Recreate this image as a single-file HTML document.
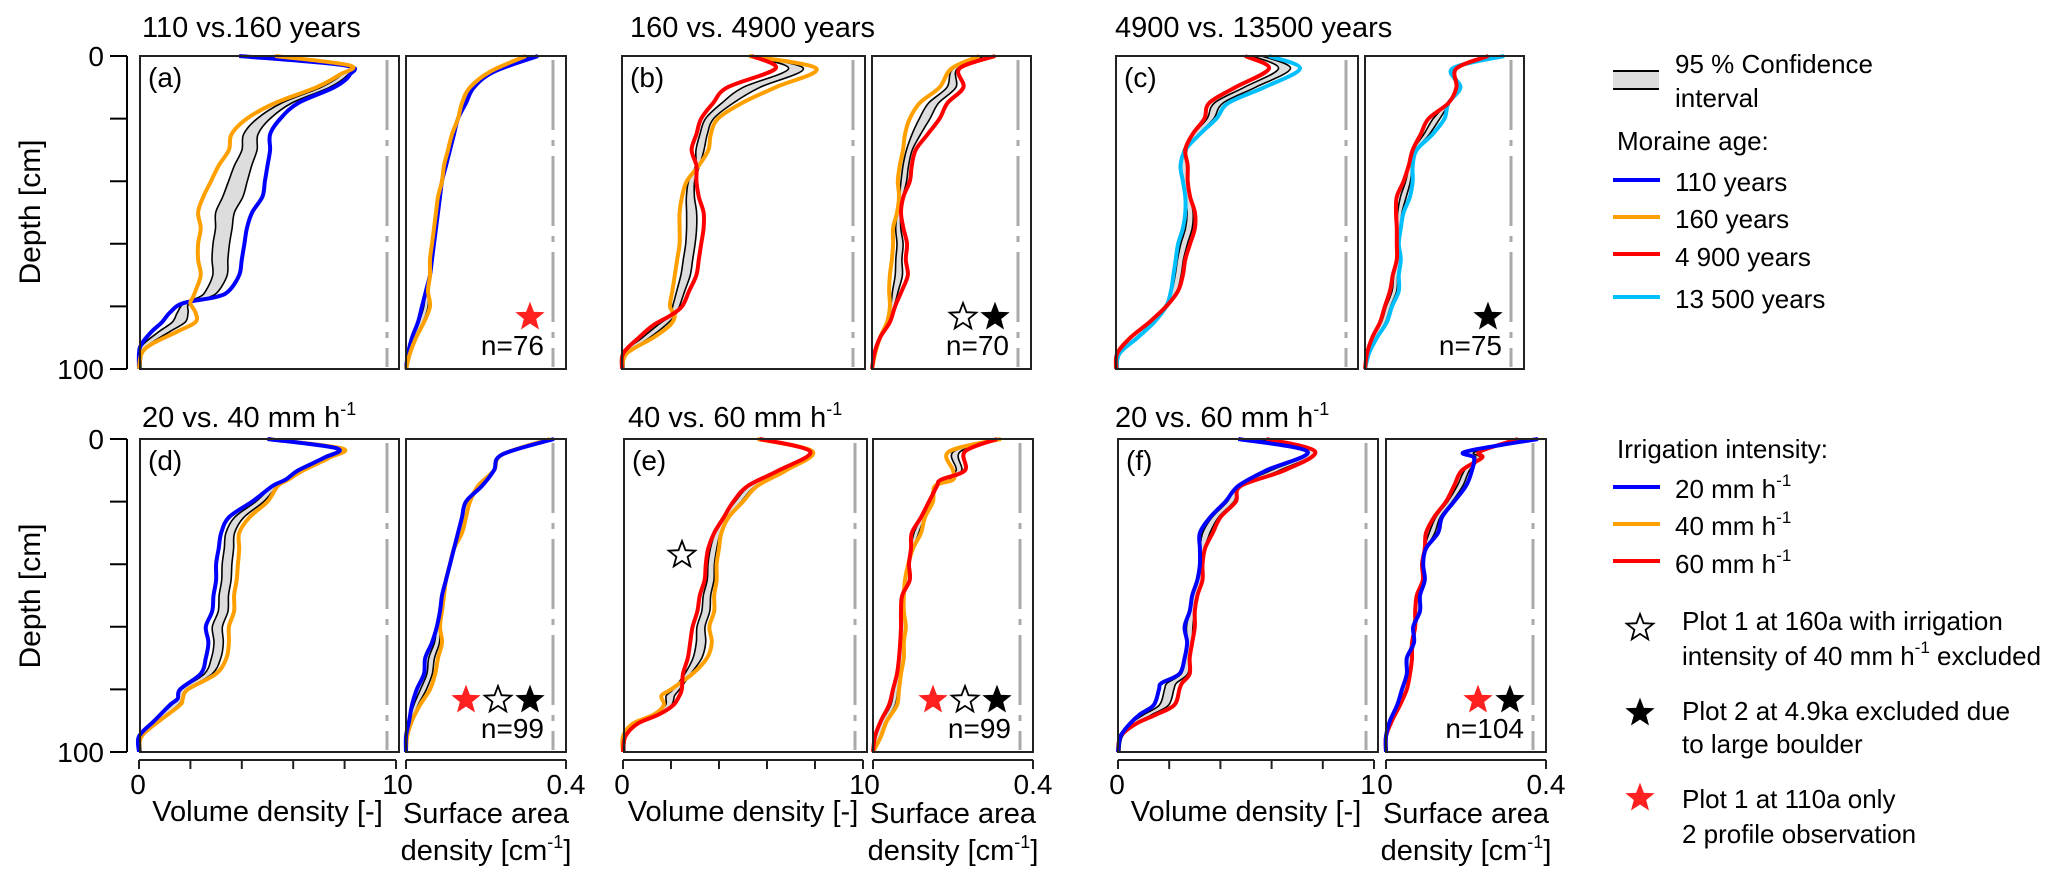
<!DOCTYPE html>
<html><head><meta charset="utf-8">
<style>
html,body{margin:0;padding:0;background:#fff;}
svg{display:block;font-family:"Liberation Sans",sans-serif;}
</style></head>
<body>
<svg id="fig" width="2067" height="887" viewBox="0 0 2067 887" xmlns="http://www.w3.org/2000/svg">
<g id="plots"></g>
<!-- titles -->
<g font-size="29" fill="#000">
<text x="142" y="37">110 vs.160 years</text>
<text x="630" y="37">160 vs. 4900 years</text>
<text x="1115" y="37">4900 vs. 13500 years</text>
<text x="142" y="427">20 vs. 40 mm h<tspan dy="-12" font-size="18">-1</tspan></text>
<text x="628" y="427">40 vs. 60 mm h<tspan dy="-12" font-size="18">-1</tspan></text>
<text x="1115" y="427">20 vs. 60 mm h<tspan dy="-12" font-size="18">-1</tspan></text>
</g>
<!-- y axes -->
<g stroke="#000" stroke-width="2">
<line x1="127" y1="56" x2="127" y2="369"/><line x1="127" y1="439" x2="127" y2="752"/>
</g>
<g id="yticks"></g>
<g font-size="28" text-anchor="end">
<text x="104" y="66">0</text>
<text x="104" y="379">100</text>
<text x="104" y="449">0</text>
<text x="104" y="762">100</text>
</g>
<text transform="translate(40,212) rotate(-90)" font-size="30" text-anchor="middle">Depth [cm]</text>
<text transform="translate(40,596) rotate(-90)" font-size="30" text-anchor="middle">Depth [cm]</text>
<!-- top legend -->
<g font-size="26">
<rect x="1613" y="71" width="46" height="18" fill="#ddd"/>
<line x1="1613" y1="71" x2="1659" y2="71" stroke="#000" stroke-width="2"/>
<line x1="1613" y1="89" x2="1659" y2="89" stroke="#000" stroke-width="2"/>
<text x="1675" y="73">95 % Confidence</text>
<text x="1675" y="107">interval</text>
<text x="1617" y="150">Moraine age:</text>
<line x1="1613" y1="180" x2="1660" y2="180" stroke="#0000ff" stroke-width="4"/>
<text x="1675" y="191">110 years</text>
<line x1="1613" y1="217" x2="1660" y2="217" stroke="#ffa000" stroke-width="4"/>
<text x="1675" y="228">160 years</text>
<line x1="1613" y1="254" x2="1660" y2="254" stroke="#ff0000" stroke-width="4"/>
<text x="1675" y="266">4 900 years</text>
<line x1="1613" y1="297" x2="1660" y2="297" stroke="#00bfff" stroke-width="4"/>
<text x="1675" y="308">13 500 years</text>
</g>
<!-- bottom legend -->
<g font-size="26">
<text x="1617" y="458">Irrigation intensity:</text>
<line x1="1613" y1="487" x2="1660" y2="487" stroke="#0000ff" stroke-width="4"/>
<text x="1675" y="498">20 mm h<tspan dy="-12" font-size="17">-1</tspan></text>
<line x1="1613" y1="524" x2="1660" y2="524" stroke="#ffa000" stroke-width="4"/>
<text x="1675" y="535">40 mm h<tspan dy="-12" font-size="17">-1</tspan></text>
<line x1="1613" y1="561" x2="1660" y2="561" stroke="#ff0000" stroke-width="4"/>
<text x="1675" y="573">60 mm h<tspan dy="-12" font-size="17">-1</tspan></text>
<text x="1682" y="630">Plot 1 at 160a with irrigation</text>
<text x="1682" y="665">intensity of 40 mm h<tspan dy="-12" font-size="17">-1</tspan><tspan dy="12"> excluded</tspan></text>
<text x="1682" y="720">Plot 2 at 4.9ka excluded due</text>
<text x="1682" y="753">to large boulder</text>
<text x="1682" y="808">Plot 1 at 110a only</text>
<text x="1682" y="843">2 profile observation</text>
</g>
<g id="stars"></g>
<g id="xaxes"></g>
</svg>
<script>
// ---- data (volume density [-], surface area density [cm^-1]) ----
const depthVolA = [0,3,6,10,15,20,25,30,35,40,45,50,55,60,65,70,75,77,79,82,85,88,92,95,100];
const volA_110 = [.39,.80,.82,.76,.62,.55,.51,.51,.50,.49,.48,.44,.42,.41,.40,.39,.35,.30,.17,.12,.09,.05,.01,0,0];
const volA_160 = [.53,.82,.78,.69,.53,.42,.36,.35,.31,.28,.25,.23,.24,.23,.23,.24,.22,.21,.20,.22,.22,.15,.05,.01,0];
const depthSurf = [0,5,10,15,20,25,30,35,40,45,50,55,60,65,70,75,80,85,90,95,100];
const surfA_110 = [.33,.22,.17,.15,.13,.12,.11,.10,.09,.085,.08,.075,.07,.065,.06,.05,.04,.03,.015,.005,0];
const surfA_160 = [.30,.21,.16,.14,.13,.115,.105,.095,.09,.08,.075,.07,.065,.06,.06,.055,.06,.045,.025,.01,0];

const depthVolB = [0,4,10,15,20,25,30,35,40,45,50,55,60,65,70,75,80,83,86,90,95,100];
const volB_160 = [.53,.81,.64,.50,.40,.37,.36,.32,.27,.25,.24,.24,.24,.23,.22,.21,.20,.22,.20,.13,.02,0];
const volB_4900 = [.54,.64,.44,.38,.33,.31,.29,.31,.31,.32,.34,.34,.33,.32,.31,.28,.25,.20,.13,.07,.005,0];
const depthSurf4 = [0,4,10,15,20,25,30,35,40,45,50,55,60,65,70,75,80,85,90,95,100];
const surfB_160 = [.27,.20,.17,.12,.095,.083,.078,.07,.065,.068,.063,.053,.053,.05,.045,.043,.045,.038,.02,.008,0];
const surfB_4900 = [.31,.22,.23,.19,.17,.14,.11,.10,.095,.079,.073,.079,.088,.085,.09,.075,.058,.045,.02,.006,0];

const depthVolC = [0,4,10,15,20,25,30,35,40,45,50,55,60,65,70,75,80,85,90,95,100];
const volC_4900 = [.54,.64,.50,.39,.37,.32,.29,.30,.30,.31,.33,.33,.31,.29,.28,.26,.21,.14,.06,.005,0];
const volC_13500 = [.64,.77,.62,.47,.42,.35,.29,.27,.28,.29,.29,.28,.26,.25,.24,.23,.21,.16,.09,.015,0];
const surfC_4900 = [.31,.23,.23,.21,.16,.14,.12,.11,.097,.08,.078,.08,.08,.08,.07,.063,.05,.038,.018,.005,0];
const surfC_13500 = [.35,.22,.24,.21,.20,.17,.13,.12,.12,.113,.097,.09,.085,.09,.085,.085,.068,.055,.03,.01,0];

const depthVolD = [0,3,6,10,13,15,20,25,30,35,40,45,50,55,60,65,70,75,80,83,85,90,95,100];
const volD_20 = [.50,.77,.72,.62,.57,.52,.44,.35,.32,.31,.30,.30,.29,.285,.26,.27,.26,.24,.16,.15,.12,.06,0,0];
const volD_40 = [.50,.79,.74,.64,.58,.54,.50,.43,.39,.39,.385,.38,.37,.37,.35,.35,.34,.30,.19,.17,.16,.08,.01,0];
const surfD_20 = [.37,.24,.22,.19,.15,.14,.13,.12,.11,.10,.09,.085,.077,.065,.048,.045,.027,.015,.008,0,0];
const surfD_40 = [.36,.24,.22,.18,.16,.15,.14,.12,.11,.10,.095,.09,.085,.09,.08,.073,.06,.035,.015,.003,0];

const depthVolE = [0,4,10,15,20,25,30,35,40,45,50,55,60,65,70,75,80,82,85,88,91,95,100];
const volE_40 = [.56,.79,.68,.56,.50,.44,.41,.40,.39,.39,.38,.38,.36,.37,.35,.29,.20,.16,.17,.13,.04,0,0];
const volE_60 = [.57,.78,.65,.52,.46,.42,.38,.355,.345,.34,.32,.31,.29,.28,.27,.25,.245,.235,.21,.15,.06,.01,0];
const depthSurfE = [0,4,10,13,15,20,25,30,35,40,45,50,55,60,65,70,75,80,85,90,95,100];
const surfE_40 = [.32,.19,.20,.20,.155,.15,.13,.12,.10,.088,.08,.077,.077,.082,.077,.077,.07,.065,.06,.035,.02,0];
const surfE_60 = [.31,.23,.23,.17,.16,.14,.12,.097,.095,.09,.092,.073,.07,.07,.068,.065,.06,.05,.04,.02,.005,0];

const depthVolF = [0,4,10,15,20,25,30,35,40,45,50,55,60,65,70,75,78,80,85,88,91,95,100];
const volF_20 = [.47,.74,.58,.47,.42,.36,.32,.32,.32,.31,.29,.28,.26,.27,.26,.24,.17,.16,.14,.085,.046,.01,0];
const volF_60 = [.58,.77,.65,.48,.46,.40,.37,.34,.33,.33,.31,.30,.30,.29,.28,.28,.25,.24,.22,.15,.07,.01,0];
const depthSurfF = [0,4,6,10,15,20,25,30,35,40,45,50,55,60,65,70,75,80,85,90,95,100];
const surfF_20 = [.38,.20,.22,.215,.20,.17,.14,.13,.10,.093,.097,.085,.085,.068,.07,.052,.052,.04,.028,.01,0,0];
const surfF_60 = [.33,.235,.24,.19,.17,.15,.12,.10,.097,.09,.092,.077,.073,.073,.065,.065,.06,.052,.035,.015,0,0];

const sampleSizes = ["n=76","n=70","n=75","n=99","n=99","n=104"];
const panelLabels = ["(a)","(b)","(c)","(d)","(e)","(f)"];
const volTicks = [0,0.2,0.4,0.6,0.8,1];

const C = {blue:"#0000ff", orange:"#ffa000", red:"#ff0000", cyan:"#00bfff"};
const NS = "http://www.w3.org/2000/svg";
function mk(tag, attrs, parent){
  const e = document.createElementNS(NS, tag);
  for (const k in attrs) e.setAttribute(k, attrs[k]);
  if (parent) parent.appendChild(e);
  return e;
}
function smoothPath(pts){
  let d = "M"+pts[0][0].toFixed(1)+","+pts[0][1].toFixed(1);
  for (let i=0;i<pts.length-1;i++){
    const p0=pts[i-1]||pts[i], p1=pts[i], p2=pts[i+1], p3=pts[i+2]||p2;
    const c1=[p1[0]+(p2[0]-p0[0])/6, p1[1]+(p2[1]-p0[1])/6];
    const c2=[p2[0]-(p3[0]-p1[0])/6, p2[1]-(p3[1]-p1[1])/6];
    d += " C"+c1[0].toFixed(1)+","+c1[1].toFixed(1)+" "+c2[0].toFixed(1)+","+c2[1].toFixed(1)+" "+p2[0].toFixed(1)+","+p2[1].toFixed(1);
  }
  return d;
}

const panels = [
 {id:"a", top:56, bot:369, v:[140,399,139,396], s:[406,566,406,566], depV:depthVolA, A:volA_110, B:volA_160, cA:C.blue, cB:C.orange, depS:depthSurf, sA:surfA_110, sB:surfA_160, stars:["red"]},
 {id:"b", top:56, bot:369, v:[622,865,622,862], s:[872,1031,872,1031], depV:depthVolB, A:volB_160, B:volB_4900, cA:C.orange, cB:C.red, depS:depthSurf4, sA:surfB_160, sB:surfB_4900, stars:["open","black"]},
 {id:"c", top:56, bot:369, v:[1116,1358,1116,1355], s:[1365,1524,1365,1524], depV:depthVolC, A:volC_13500, B:volC_4900, cA:C.cyan, cB:C.red, depS:depthVolC, sA:surfC_13500, sB:surfC_4900, stars:["black"]},
 {id:"d", top:439, bot:752, v:[140,399,139,396], s:[406,566,406,566], depV:depthVolD, A:volD_40, B:volD_20, cA:C.orange, cB:C.blue, depS:depthSurf, sA:surfD_40, sB:surfD_20, stars:["red","open","black"]},
 {id:"e", top:439, bot:752, v:[624,867,623,863], s:[873,1033,873,1033], depV:depthVolE, A:volE_40, B:volE_60, cA:C.orange, cB:C.red, depS:depthSurfE, sA:surfE_40, sB:surfE_60, stars:["red","open","black"]},
 {id:"f", top:439, bot:752, v:[1118,1378,1118,1374], s:[1386,1546,1386,1546], depV:depthVolF, A:volF_60, B:volF_20, cA:C.red, cB:C.blue, depS:depthSurfF, sA:surfF_60, sB:surfF_20, stars:["red","black"]}
];

function starPts(cx,cy,r){
  const p=[];
  for(let i=0;i<10;i++){const a=-Math.PI/2+i*Math.PI/5; const rr=i%2?r*0.42:r; p.push((cx+rr*Math.cos(a)).toFixed(1)+","+(cy+rr*Math.sin(a)).toFixed(1));}
  return p.join(" ");
}
function drawStar(kind,cx,cy,parent){
  const fill = kind==="red"?"#ff2020":(kind==="black"?"#000":"#fff");
  const st = mk("polygon",{points:starPts(cx,cy,14),fill:fill,stroke:kind==="red"?"#ff2020":"#000","stroke-width":kind==="open"?1.8:1},parent);
  
  
}

const root = document.getElementById("plots");
panels.forEach((P,pi)=>{
  const g = mk("g",{},root);
  
  
  const yS = d => P.top + (P.bot-P.top)*d/100;
  const subs = [
    {kind:"volume", box:P.v, max:1, dep:P.depV, A:P.A, B:P.B, dashOff:12},
    {kind:"surface", box:P.s, max:0.4, dep:P.depS, A:P.sA, B:P.sB, dashOff:13}
  ];
  subs.forEach(S=>{
    const [bx0,bx1,ax0,ax1] = S.box;
    const xS = v => ax0 + (ax1-ax0)*v/S.max;
    const sg = mk("g",{},g);
    
    
    const gl = mk("line",{x1:bx1-S.dashOff,y1:P.top+4,x2:bx1-S.dashOff,y2:P.bot-2,stroke:"#aaa","stroke-width":3,"stroke-dasharray":"70,10,6,10"},sg);
    
    
    const lo=[], hi=[];
    S.dep.forEach((d,i)=>{
      const a=S.A[i], b=S.B[i], m=(a+b)/2, w=Math.abs(a-b)*0.14 + S.max*0.007;
      lo.push([xS(Math.max(0,m-w)), yS(d)]);
      hi.push([xS(m+w), yS(d)]);
    });
    const band = mk("path",{d:smoothPath(lo)+" L"+hi[hi.length-1][0].toFixed(1)+","+hi[hi.length-1][1].toFixed(1)+" "+smoothPath(hi.slice().reverse()).slice(1)+" Z",fill:"#ddd",stroke:"none"},sg);
    
    
    [lo,hi].forEach(L=>{
      const cl = mk("path",{d:smoothPath(L),fill:"none",stroke:"#000","stroke-width":1.6},sg);
      
      
    });
    [[S.A,P.cA],[S.B,P.cB]].forEach(([arr,col])=>{
      const pts = S.dep.map((d,i)=>[xS(arr[i]), yS(d)]);
      const ln = mk("path",{d:smoothPath(pts),fill:"none",stroke:col,"stroke-width":4,"stroke-linejoin":"round"},sg);
      
      
    });
    const fr = mk("rect",{x:bx0,y:P.top,width:bx1-bx0,height:P.bot-P.top,fill:"none",stroke:"#222","stroke-width":2},sg);
    
    
    if (P.top > 400){
      const ax = document.getElementById("xaxes");
      const al = mk("line",{x1:ax0,y1:760,x2:ax1,y2:760,stroke:"#222","stroke-width":2},ax);
      
      
      const ticks = S.kind==="volume"?volTicks:[0,0.4];
      ticks.forEach(t=>{
        const tk = mk("line",{x1:xS(t),y1:760,x2:xS(t),y2:769,stroke:"#222","stroke-width":2},ax);
        
        
      });
      const l0 = mk("text",{x:ax0-1,y:794,"font-size":28,"text-anchor":"middle"},ax); l0.textContent="0";
      
      
      const l1 = mk("text",{x:ax1+(S.kind==="volume"?-6:0),y:794,"font-size":28,"text-anchor":"middle"},ax);
      l1.textContent = S.kind==="volume"?"1":"0.4";
      
      
      if (S.kind==="volume"){
        const t = mk("text",{x:(ax0+ax1)/2,y:821,"font-size":29,"text-anchor":"middle"},ax);
        t.textContent="Volume density [-]";
        
        
      } else {
        const t = mk("text",{x:(bx0+bx1)/2,y:823,"font-size":29,"text-anchor":"middle"},ax);
        t.textContent="Surface area";
        
        
        const t2 = mk("text",{x:(bx0+bx1)/2,y:860,"font-size":29,"text-anchor":"middle"},ax);
        t2.innerHTML='density [cm<tspan dy="-12" font-size="18">-1</tspan><tspan dy="12">]</tspan>';
        
        
      }
    }
  });
  const pl = mk("text",{x:P.v[0]+8,y:P.top+31,"font-size":28},g);
  pl.textContent = panelLabels[pi];
  
  
  const nt = mk("text",{x:P.s[1]-22,y:P.bot-14,"font-size":28,"text-anchor":"end"},g);
  nt.textContent = sampleSizes[pi];
  
  
  const stg = document.getElementById("stars");
  const n = P.stars.length;
  P.stars.forEach((k,i)=>{ drawStar(k, P.s[1]-36-(n-1-i)*32, P.bot-52, stg); });
});
const yt = document.getElementById("yticks");
[56,439].forEach(top=>{
  for(let i=0;i<=5;i++){
    const y = top + 313*i/5;
    const t = mk("line",{x1:110,y1:y,x2:127,y2:y,stroke:"#000","stroke-width":2},yt);
    
    
  }
});
const stg = document.getElementById("stars");
drawStar("open", 682, 555, stg);
drawStar("open", 1640, 628, stg);
drawStar("black", 1640, 713, stg);
drawStar("red", 1640, 798, stg);
</script>
</body></html>
